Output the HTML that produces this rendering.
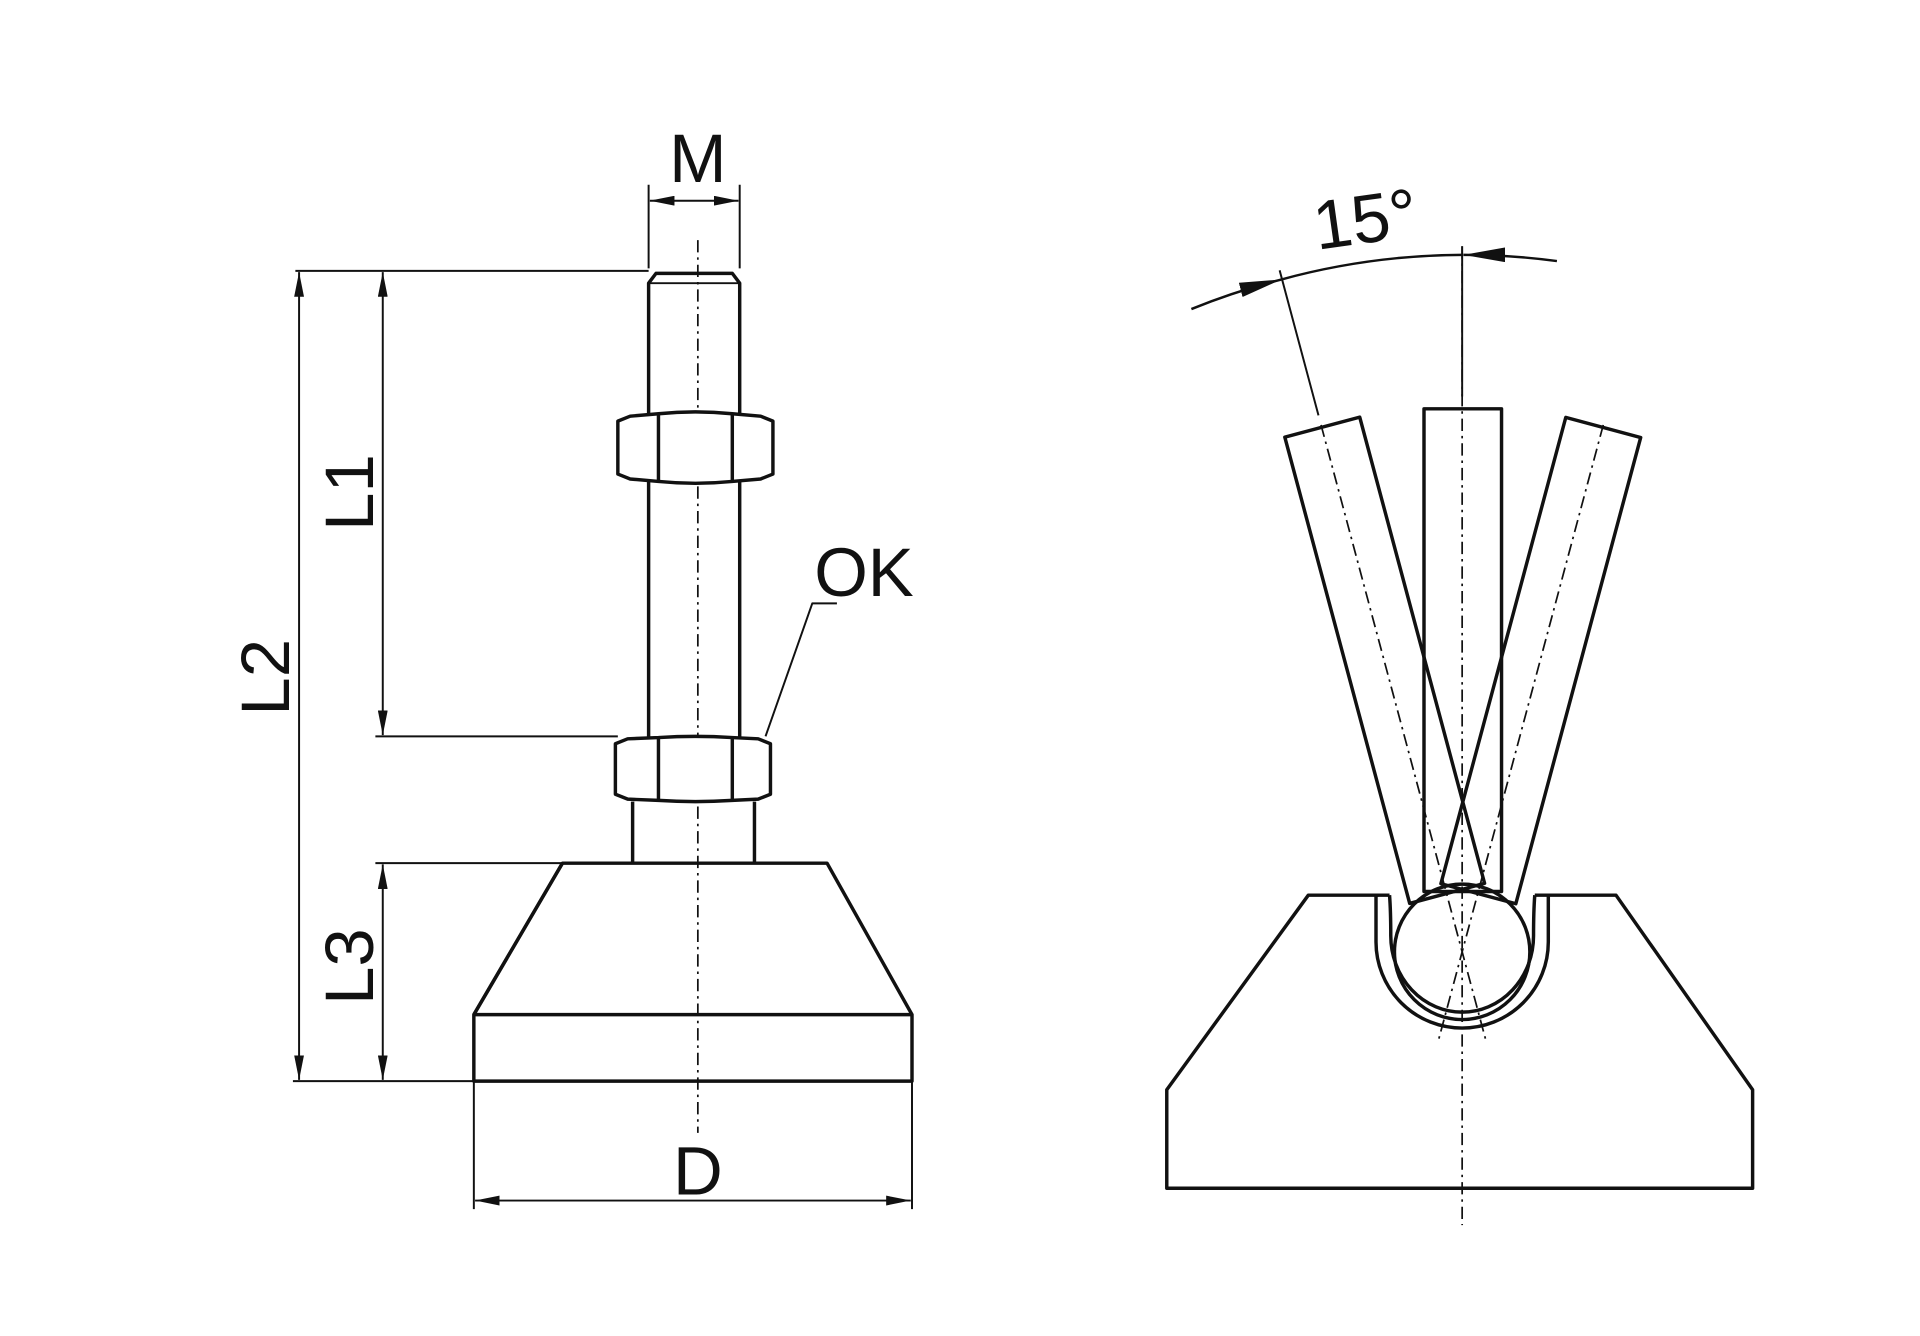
<!DOCTYPE html>
<html><head><meta charset="utf-8"><style>
html,body{margin:0;padding:0;background:#fff;}
svg{display:block}
text{font-family:"Liberation Sans",Arial,sans-serif;fill:#111;}
</style></head><body>
<svg width="1920" height="1336" viewBox="0 0 1560 1085" preserveAspectRatio="none" xmlns="http://www.w3.org/2000/svg">
<defs>
<marker id="a" viewBox="0 0 20 8" refX="20" refY="4" markerWidth="20" markerHeight="8" markerUnits="userSpaceOnUse" orient="auto-start-reverse"><path d="M0,0 L20,4 L0,8 Z" fill="#111"/></marker>
<marker id="b" viewBox="0 0 34 12" refX="34" refY="6" markerWidth="34" markerHeight="12" markerUnits="userSpaceOnUse" orient="auto"><path d="M0,0 L34,6 L0,12 Z" fill="#111"/></marker>
</defs>
<g fill="none" stroke="#111" stroke-width="2.8" stroke-linejoin="round">
<line x1="567" y1="195" x2="567" y2="920" stroke-width="1.4" stroke-dasharray="10,4,2,4"/>
<line x1="527" y1="150" x2="527" y2="218" stroke-width="1.6"/>
<line x1="601" y1="150" x2="601" y2="218" stroke-width="1.6"/>
<line x1="528" y1="163" x2="600" y2="163" stroke-width="1.6" marker-start="url(#a)" marker-end="url(#a)"/>
<path d="M527,600 L527,230 L533,222 L595,222 L601,230 L601,600"/>
<line x1="527" y1="230" x2="601" y2="230" stroke-width="1.5"/>
<path d="M502,342 L512,338 L535,336 Q565,333 595,336 L618,338 L628,342 L628,385 L618,389 L595,391 Q565,394 535,391 L512,389 L502,385 Z" fill="#fff"/>
<line x1="535" y1="336" x2="535" y2="391"/><line x1="595" y1="336" x2="595" y2="391"/>
<path d="M500,604 L510,600 L535,599 Q565,597 595,599 L616,600 L626,604 L626,645 L616,649 L595,650 Q565,652 535,650 L510,649 L500,645 Z" fill="#fff"/>
<line x1="535" y1="599" x2="535" y2="650"/><line x1="595" y1="599" x2="595" y2="650"/>
<path d="M514,651 L514,701 M613,651 L613,701"/>
<path d="M457,701 L672,701 L741,824 L741,878 L385,878 L385,824 Z"/>
<line x1="385" y1="824" x2="741" y2="824"/>
<line x1="457" y1="701" x2="385" y2="824"/>
<g stroke-width="1.6">
<line x1="240" y1="220" x2="527" y2="220"/>
<line x1="305" y1="598" x2="502" y2="598"/>
<line x1="305" y1="701" x2="457" y2="701"/>
<line x1="238" y1="878" x2="385" y2="878"/>
<line x1="385" y1="878" x2="385" y2="982"/>
<line x1="741" y1="878" x2="741" y2="982"/>
<line x1="243" y1="221" x2="243" y2="877" marker-start="url(#a)" marker-end="url(#a)"/>
<line x1="311" y1="221" x2="311" y2="597" marker-start="url(#a)" marker-end="url(#a)"/>
<line x1="311" y1="702" x2="311" y2="877" marker-start="url(#a)" marker-end="url(#a)"/>
<line x1="386" y1="975" x2="740" y2="975" marker-start="url(#a)" marker-end="url(#a)"/>
<path d="M680,490 L660,490 L622,598"/>
</g>
<line x1="1188" y1="200" x2="1188" y2="995" stroke-width="1.4" stroke-dasharray="10,4,2,4"/>
<path d="M1120,727 L1063,727 L948,885 L948,965 L1424,965 L1424,885 L1313,727 L1258,727"/>
<path d="M1247,727 L1258,727 L1258,765 A70,70 0 0 1 1118,765 L1118,727 L1129,727"/>
<path d="M1247,727 Q1246,740 1246,760 A58,62 0 0 1 1130,760 Q1130,740 1129,727"/>
<circle cx="1188" cy="773" r="55"/>
<rect x="1157" y="332" width="63" height="392"/>
<rect x="1157" y="332" width="63" height="392" transform="rotate(-15 1188 773)"/>
<rect x="1157" y="332" width="63" height="392" transform="rotate(15 1188 773)"/>
<g stroke-width="1.4" stroke-dasharray="10,4,2,4">
<line x1="1188" y1="330" x2="1188" y2="850" transform="rotate(-15 1188 773)"/>
<line x1="1188" y1="330" x2="1188" y2="850" transform="rotate(15 1188 773)"/>
</g>
<g stroke-width="2">
<line x1="1188" y1="200" x2="1188" y2="322" stroke-width="1.6"/>
<line x1="1188" y1="200" x2="1188" y2="322" stroke-width="1.6" transform="rotate(-15 1188 773)"/>
<path d="M968,251 A566,566 0 0 1 1041,227" marker-end="url(#b)"/>
<path d="M1041,227 A566,566 0 0 1 1188,207"/>
<path d="M1265,212 A566,566 0 0 0 1189,207" marker-end="url(#b)"/>
</g>
</g>
<text x="567" y="148" font-size="56" text-anchor="middle">M</text>
<text x="567" y="970" font-size="56" text-anchor="middle">D</text>
<text x="702" y="484" font-size="56" text-anchor="middle">OK</text>
<text transform="translate(303,400) rotate(-90)" font-size="56" text-anchor="middle">L1</text>
<text transform="translate(235,550) rotate(-90)" font-size="56" text-anchor="middle">L2</text>
<text transform="translate(303,785) rotate(-90)" font-size="56" text-anchor="middle">L3</text>
<text transform="translate(1112,197) rotate(-8)" font-size="56" text-anchor="middle">15°</text>
</svg>
</body></html>
